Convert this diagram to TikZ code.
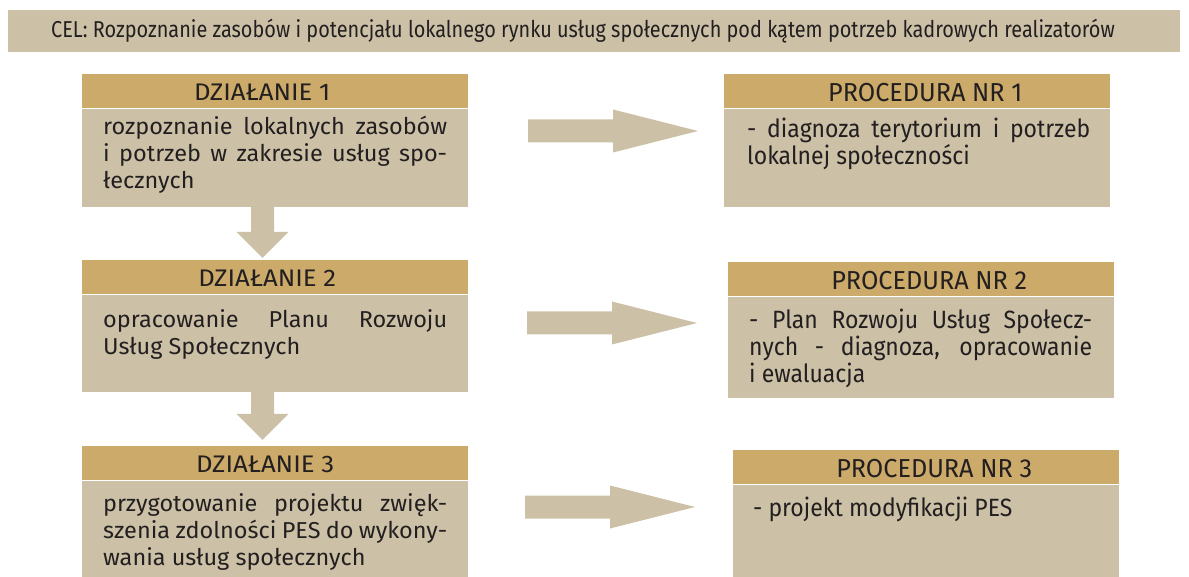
\documentclass[tikz,border=0pt]{standalone}
\usepackage{fontspec}
\setmainfont{Fira Sans}
\newfontfamily\bannerfont{Fira Sans}[FakeStretch=0.865]
\newfontfamily\actfont{Fira Sans}[FakeStretch=1.02]
\newfontfamily\acthdrfont{Fira Sans}[FakeStretch=1.07]
\newfontfamily\prochdrfont{Fira Sans}[FakeStretch=0.97]
\newfontfamily\procfont{Fira Sans}[FakeStretch=0.92]

\definecolor{hdrgold}{RGB}{203,170,106}
\definecolor{boxsand}{RGB}{204,193,166}
\definecolor{ink}{RGB}{35,31,32}

\tikzset{
  banner/.style={fill=boxsand, draw=none, anchor=north west, inner sep=0pt,
    minimum width=1172pt, minimum height=42pt},
  hdrbox/.style={fill=hdrgold, draw=none, anchor=north west, inner sep=0pt,
    minimum width=386pt, minimum height=34pt},
  bodybox/.style={fill=boxsand, draw=none, anchor=north west, inner sep=0pt,
    minimum width=386pt},
  hdrtext/.style={text=ink, inner sep=0pt, font=\acthdrfont\fontsize{24}{26}\selectfont},
  prochdrtext/.style={text=ink, inner sep=0pt, font=\prochdrfont\fontsize{26}{28}\selectfont},
  acttext/.style={text=ink, inner sep=0pt, anchor=base west, text width=344pt,
    align=justify, font=\actfont\fontsize{23}{27}\selectfont},
  proctext/.style={text=ink, inner sep=0pt, anchor=base west, text width=343pt,
    align=justify, font=\procfont\fontsize{25}{27}\selectfont},
  % wide right-pointing block arrow; tail at the pic origin
  rarrow/.pic={\fill[boxsand] (0,-11.5) -- (85,-11.5) -- (85,-21.5) -- (170,0)
      -- (85,21.5) -- (85,11.5) -- (0,11.5) -- cycle;},
  % downward block arrow; argument = shaft length, tail at the pic origin
  darrow/.pic={\fill[boxsand] (-11.5,0) -- (11.5,0) -- (11.5,#1) -- (26,#1)
      -- (0,{#1+26}) -- (-26,#1) -- (-11.5,#1) -- cycle;},
}

\begin{document}
\begin{tikzpicture}[x=1pt, y=-1pt]
\useasboundingbox (0,0) rectangle (1189,577);

% goal banner
\node[banner] (cel) at (8,10) {};
\node[text=ink, inner sep=0pt, anchor=base, font=\bannerfont\fontsize{23}{25}\selectfont]
  (celtxt) at (583,38) {CEL: Rozpoznanie zasobów i potencjału lokalnego rynku usług społecznych pod kątem potrzeb kadrowych realizatorów};

% action 1
\node[hdrbox] (d1h) at (82,74) {};
\node[hdrtext] (d1t) at ([xshift=-13pt,yshift=-1pt]d1h.center) {DZIAŁANIE 1};
\node[bodybox, minimum height=98pt] (d1b) at (d1h.south west) {};
\node[acttext] (d1x) at (103,135) {rozpoznanie lokalnych zasobów\linebreak
  i potrzeb w zakresie usług spo-\linebreak łecznych};

% action 2
\node[hdrbox] (d2h) at (82,260) {};
\node[hdrtext] (d2t) at ([xshift=-8pt,yshift=-1pt]d2h.center) {DZIAŁANIE 2};
\node[bodybox, minimum height=97pt] (d2b) at (d2h.south west) {};
\node[acttext] (d2x) at (103,328) {opracowanie Planu Rozwoju\linebreak
  Usług Społecznych};

% action 3
\node[hdrbox] (d3h) at (82,446) {};
\node[hdrtext] (d3t) at ([xshift=-10pt,yshift=-1pt]d3h.center) {DZIAŁANIE 3};
\node[bodybox, minimum height=98pt] (d3b) at (d3h.south west) {};
\node[acttext] (d3x) at (103,511) {przygotowanie projektu zwięk-\linebreak
  szenia zdolności PES do wykony-\linebreak wania usług społecznych};

% procedure 1
\node[hdrbox] (p1h) at (724,74) {};
\node[prochdrtext] (p1t) at ([xshift=8pt,yshift=-1pt]p1h.center) {PROCEDURA NR 1};
\node[bodybox, minimum height=98pt] (p1b) at (p1h.south west) {};
\node[proctext] (p1x) at (747,138) {- diagnoza terytorium i potrzeb\linebreak
  lokalnej społeczności};

% procedure 2
\node[hdrbox] (p2h) at (728,262) {};
\node[prochdrtext] (p2t) at ([xshift=8pt,yshift=-1pt]p2h.center) {PROCEDURA NR 2};
\node[bodybox, minimum height=101pt] (p2b) at (p2h.south west) {};
\node[proctext] (p2x) at (749,329) {- Plan Rozwoju Usług Społecz-\linebreak
  nych - diagnoza, opracowanie\linebreak i ewaluacja};

% procedure 3
\node[hdrbox] (p3h) at (733,450) {};
\node[prochdrtext] (p3t) at ([xshift=8pt,yshift=-1pt]p3h.center) {PROCEDURA NR 3};
\node[bodybox, minimum height=93pt] (p3b) at (p3h.south west) {};
\node[proctext] (p3x) at (753,516) {- projekt modyfikacji PES};

% arrows from each action to its procedure
\coordinate (a1) at (528,131);
\coordinate (a2) at (527,323);
\coordinate (a3) at (525,507);
\pic at (a1) {rarrow};
\pic at (a2) {rarrow};
\pic at (a3) {rarrow};

% arrows between consecutive actions
\coordinate (v1) at (d1b.south -| 262.5,0);
\coordinate (v2) at (d2b.south -| 262.5,0);
\pic at (v1) {darrow=25};
\pic at (v2) {darrow=22};
\end{tikzpicture}
\end{document}
